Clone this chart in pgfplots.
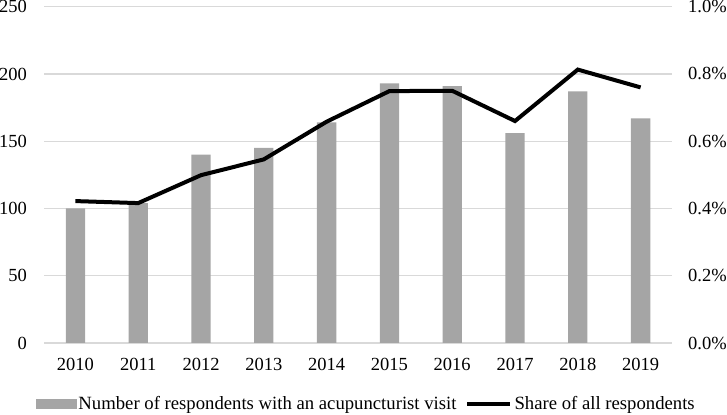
\documentclass[border=0pt]{standalone}
\usepackage{pgfplots}
\pgfplotsset{compat=1.18}
\usepackage{fontspec}
\setmainfont{Liberation Serif}
\definecolor{barcol}{HTML}{A5A5A5}
\definecolor{gridcol}{HTML}{D9D9D9}
\begin{document}
\fontsize{18.7bp}{22bp}\selectfont
\begin{tikzpicture}
\path[use as bounding box] (0,0) rectangle (727bp,415bp);
\begin{axis}[
  at={(44bp,72bp)}, anchor=south west,
  scale only axis, width=628bp, height=336.3bp,
  xmin=-0.5, xmax=9.5, ymin=0, ymax=250,
  ytick={0,50,100,150,200,250},
  xtick={0,1,2,3,4,5,6,7,8,9},
  xticklabels={2010,2011,2012,2013,2014,2015,2016,2017,2018,2019},
  axis line style={draw=none},
  tick style={draw=none},
  major tick length=0pt,
  ymajorgrids, grid style={gridcol, line width=1.2bp},
  /pgf/number format/assume math mode=true,
  ticklabel style={font=\fontsize{18.5bp}{22bp}\selectfont},
  yticklabel style={inner sep=0pt, xshift=-17bp},
  xticklabel style={inner sep=0pt, yshift=-15bp},
]
\addplot[ybar, bar width=19.3bp, fill=barcol, draw=none] coordinates {
(0,100) (1,104) (2,140) (3,145) (4,164) (5,193) (6,191) (7,156) (8,187) (9,167)};
\end{axis}
\begin{axis}[
  at={(44bp,72bp)}, anchor=south west,
  scale only axis, width=628bp, height=336.3bp,
  xmin=-0.5, xmax=9.5, ymin=0, ymax=1,
  axis y line*=right, axis x line=none,
  axis line style={draw=none},
  tick style={draw=none},
  major tick length=0pt,
  ytick={0,0.2,0.4,0.6,0.8,1.0},
  yticklabels={0.0\%,0.2\%,0.4\%,0.6\%,0.8\%,1.0\%},
  ticklabel style={font=\fontsize{18.5bp}{22bp}\selectfont},
  yticklabel style={inner sep=0pt, xshift=16bp},
  legend columns=2,
  legend style={at={(0.5134,-0.1815)}, anchor=center, draw=none, fill=none,
    font=\fontsize{18.7bp}{22bp}\selectfont,
    inner sep=0pt,
    nodes={inner sep=2.5bp},
    /tikz/every even column/.append style={column sep=6bp}},
]
\addlegendimage{legend image code/.code={\fill[barcol] (0bp,-4.5bp) rectangle (40bp,4.5bp);}}
\addlegendentry{Number of respondents with an acupuncturist visit}
\addplot[black, line width=4bp,
  legend image code/.code={\draw[black, line width=4bp] (0bp,0bp) -- (43bp,0bp);}]
  coordinates {
(0,0.422) (1,0.416) (2,0.499) (3,0.546) (4,0.658) (5,0.749) (6,0.750) (7,0.660) (8,0.813) (9,0.760)};
\addlegendentry{Share of all respondents}
\end{axis}
\end{tikzpicture}
\end{document}
